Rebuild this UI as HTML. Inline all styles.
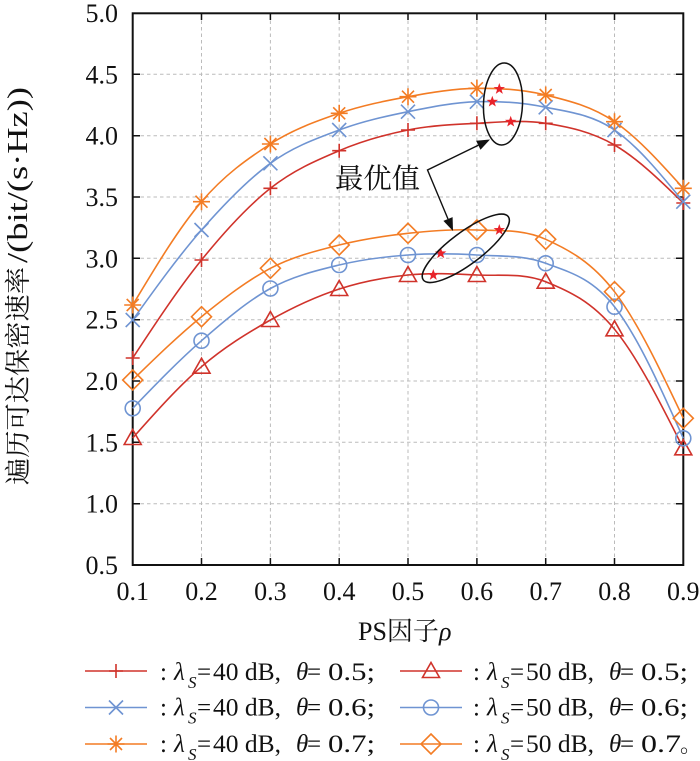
<!DOCTYPE html>
<html><head><meta charset="utf-8"><style>
html,body{margin:0;padding:0;background:#fff;}
svg{display:block;}
.t{font-family:"Liberation Serif","Noto Serif CJK SC",serif;fill:#111;}
.cj{font-family:"Noto Serif CJK SC","Liberation Serif",serif;}
</style></head><body>
<svg width="700" height="761" viewBox="0 0 700 761" xmlns="http://www.w3.org/2000/svg">
<defs>
<path id="mp" d="M-7 0H7M0-7V7" fill="none"/>
<path id="mx" d="M-7-7L7 7M-7 7L7-7" fill="none"/>
<path id="ms" d="M-8.5 0H8.5M0-8.5V8.5M-6-6L6 6M-6 6L6-6" fill="none"/>
<polygon id="mt" points="0,-8.5 8.5,6.5 -8.5,6.5" fill="none"/>
<circle id="mc" r="7.5" fill="none"/>
<polygon id="md" points="0,-10 10,0 0,10 -10,0" fill="none"/>
<polygon id="st" points="0,-6 1.41,-1.94 5.71,-1.85 2.28,0.74 3.53,4.85 0,2.4 -3.53,4.85 -2.28,0.74 -5.71,-1.85 -1.41,-1.94" fill="#e8232a"/>
</defs>
<rect width="700" height="761" fill="#fff"/>
<!-- grid -->
<g stroke="#bbbbbb" stroke-width="1" stroke-dasharray="3.5 3" fill="none">
<path d="M201.5 14V564M270.4 14V564M339.2 14V564M408 14V564M476.9 14V564M545.7 14V564M614.5 14V564"/>
<path d="M134 503.7H682M134 442.3H682M134 381H682M134 319.7H682M134 258.3H682M134 197H682M134 135.7H682M134 74.3H682"/>
</g>
<!-- axes -->
<rect x="132.7" y="13.3" width="550.6" height="551.7" fill="none" stroke="#111" stroke-width="2"/>
<g stroke="#111" stroke-width="1.5">
<path d="M201.5 565V558M270.4 565V558M339.2 565V558M408 565V558M476.9 565V558M545.7 565V558M614.5 565V558"/>
<path d="M201.5 13V20M270.4 13V20M339.2 13V20M408 13V20M476.9 13V20M545.7 13V20M614.5 13V20"/>
<path d="M133 503.7H140M133 442.3H140M133 381H140M133 319.7H140M133 258.3H140M133 197H140M133 135.7H140M133 74.3H140"/>
<path d="M683 503.7H676M683 442.3H676M683 381H676M683 319.7H676M683 258.3H676M683 197H676M683 135.7H676M683 74.3H676"/>
</g>
<!-- y tick labels -->
<g class="t" font-size="26" text-anchor="end">
<text x="118" y="574">0.5</text>
<text x="118" y="512.7">1.0</text>
<text x="118" y="451.3">1.5</text>
<text x="118" y="390">2.0</text>
<text x="118" y="328.7">2.5</text>
<text x="118" y="267.3">3.0</text>
<text x="118" y="206">3.5</text>
<text x="118" y="144.7">4.0</text>
<text x="118" y="83.3">4.5</text>
<text x="118" y="22">5.0</text>
</g>
<!-- x tick labels -->
<g class="t" font-size="26" text-anchor="middle">
<text x="132.7" y="600">0.1</text>
<text x="201.5" y="600">0.2</text>
<text x="270.4" y="600">0.3</text>
<text x="339.2" y="600">0.4</text>
<text x="408" y="600">0.5</text>
<text x="476.9" y="600">0.6</text>
<text x="545.7" y="600">0.7</text>
<text x="614.5" y="600">0.8</text>
<text x="683.3" y="600">0.9</text>
</g>
<!-- x title -->
<text class="t" x="358" y="640" font-size="26">PS<tspan class="cj">因子</tspan><tspan font-style="italic">ρ</tspan></text>
<!-- y title -->
<text class="t" font-size="26" transform="translate(27,485) rotate(-90)"><tspan class="cj" x="0" textLength="218" lengthAdjust="spacingAndGlyphs">遍历可达保密速率</tspan><tspan x="222" font-size="28" textLength="176" lengthAdjust="spacingAndGlyphs">/(bit/(s·Hz))</tspan></text>

<!-- curves -->
<g fill="none" stroke-width="1.6">
<path stroke="#d0332b" d="M132.7 358 C155.6 323.1 178.6 288.3 201.5 260 C224.4 231.7 247.5 206.5 270.4 188.3 C293.3 170.1 316.3 160.4 339.2 150.7 C362.1 141.0 385.1 134.6 408 130 C430.9 125.4 454.0 124.4 476.9 123.3 C499.8 122.2 522.8 119.7 545.7 123.3 C568.6 126.9 591.6 131.7 614.5 145 C637.4 158.3 660.4 180.6 683.3 203"/>
<path stroke="#6f94d2" d="M132.7 320 C155.6 288.1 178.6 256.1 201.5 230 C224.4 203.9 247.5 180.0 270.4 163.3 C293.3 146.6 316.3 138.6 339.2 130 C362.1 121.4 385.1 116.4 408 111.7 C430.9 107.0 454.0 102.4 476.9 101.7 C499.8 101.0 522.8 102.6 545.7 107.3 C568.6 112.0 591.6 114.3 614.5 130 C637.4 145.7 660.4 173.7 683.3 201.7"/>
<path stroke="#f37c24" d="M132.7 305 C155.6 266.8 178.6 228.5 201.5 201.7 C224.4 174.9 247.5 158.7 270.4 144 C293.3 129.3 316.3 121.2 339.2 113.3 C362.1 105.4 385.1 100.9 408 96.7 C430.9 92.5 454.0 88.6 476.9 88.3 C499.8 88.0 522.8 89.4 545.7 95 C568.6 100.6 591.6 106.2 614.5 121.7 C637.4 137.3 660.4 162.8 683.3 188.3"/>
<path stroke="#d0332b" d="M132.7 438 C155.6 412.2 178.6 386.4 201.5 366.7 C224.4 347.0 247.5 333.0 270.4 320 C293.3 307.1 316.3 296.5 339.2 289 C362.1 281.5 385.1 277.3 408 275 C430.9 272.7 454.0 273.9 476.9 275 C499.8 276.1 522.8 272.7 545.7 281.7 C568.6 290.8 591.6 301.5 614.5 329.3 C637.4 357.1 660.4 402.7 683.3 448.3"/>
<path stroke="#6f94d2" d="M132.7 408.3 C155.6 384.5 178.6 360.7 201.5 340.7 C224.4 320.7 247.5 301.1 270.4 288.5 C293.3 275.9 316.3 270.6 339.2 265 C362.1 259.4 385.1 256.7 408 255 C430.9 253.3 454.0 253.6 476.9 255 C499.8 256.4 522.8 254.7 545.7 263.3 C568.6 271.9 591.6 277.5 614.5 306.7 C637.4 335.9 660.4 387.1 683.3 438.3"/>
<path stroke="#f37c24" d="M132.7 380 C155.6 357.7 178.6 335.3 201.5 316.7 C224.4 298.1 247.5 280.3 270.4 268.3 C293.3 256.4 316.3 250.8 339.2 245 C362.1 239.2 385.1 235.8 408 233.3 C430.9 230.8 454.0 229.0 476.9 230 C499.8 231.0 522.8 229.0 545.7 239.3 C568.6 249.6 591.6 261.9 614.5 291.7 C637.4 321.5 660.4 369.9 683.3 418.3"/>
</g>

<!-- markers -->
<g stroke="#d0332b" stroke-width="1.6">
<use href="#mp" x="132.7" y="358"/><use href="#mp" x="201.5" y="260"/><use href="#mp" x="270.4" y="188.3"/><use href="#mp" x="339.2" y="150.7"/><use href="#mp" x="408" y="130"/><use href="#mp" x="476.9" y="123.3"/><use href="#mp" x="545.7" y="123.3"/><use href="#mp" x="614.5" y="145"/><use href="#mp" x="683.3" y="203"/>
<use href="#mt" x="132.7" y="438"/><use href="#mt" x="201.5" y="366.7"/><use href="#mt" x="270.4" y="320"/><use href="#mt" x="339.2" y="289"/><use href="#mt" x="408" y="275"/><use href="#mt" x="476.9" y="275"/><use href="#mt" x="545.7" y="281.7"/><use href="#mt" x="614.5" y="329.3"/><use href="#mt" x="683.3" y="448.3"/>
</g>
<g stroke="#6f94d2" stroke-width="1.6">
<use href="#mx" x="132.7" y="320"/><use href="#mx" x="201.5" y="230"/><use href="#mx" x="270.4" y="163.3"/><use href="#mx" x="339.2" y="130"/><use href="#mx" x="408" y="111.7"/><use href="#mx" x="476.9" y="101.7"/><use href="#mx" x="545.7" y="107.3"/><use href="#mx" x="614.5" y="130"/><use href="#mx" x="683.3" y="201.7"/>
<use href="#mc" x="132.7" y="408.3"/><use href="#mc" x="201.5" y="340.7"/><use href="#mc" x="270.4" y="288.5"/><use href="#mc" x="339.2" y="265"/><use href="#mc" x="408" y="255"/><use href="#mc" x="476.9" y="255"/><use href="#mc" x="545.7" y="263.3"/><use href="#mc" x="614.5" y="306.7"/><use href="#mc" x="683.3" y="438.3"/>
</g>
<g stroke="#f37c24" stroke-width="1.6">
<use href="#ms" x="132.7" y="305"/><use href="#ms" x="201.5" y="201.7"/><use href="#ms" x="270.4" y="144"/><use href="#ms" x="339.2" y="113.3"/><use href="#ms" x="408" y="96.7"/><use href="#ms" x="476.9" y="88.3"/><use href="#ms" x="545.7" y="95"/><use href="#ms" x="614.5" y="121.7"/><use href="#ms" x="683.3" y="188.3"/>
<use href="#md" x="132.7" y="380"/><use href="#md" x="201.5" y="316.7"/><use href="#md" x="270.4" y="268.3"/><use href="#md" x="339.2" y="245"/><use href="#md" x="408" y="233.3"/><use href="#md" x="476.9" y="230"/><use href="#md" x="545.7" y="239.3"/><use href="#md" x="614.5" y="291.7"/><use href="#md" x="683.3" y="418.3"/>
</g>

<!-- optimal stars -->
<use href="#st" x="499.3" y="89"/>
<use href="#st" x="492.3" y="101.7"/>
<use href="#st" x="510.7" y="121.7"/>
<use href="#st" x="499.3" y="230"/>
<use href="#st" x="440.7" y="253.3"/>
<use href="#st" x="433.3" y="275"/>

<!-- ellipses -->
<g fill="none" stroke="#111" stroke-width="1.5">
<ellipse cx="503" cy="104" rx="19.5" ry="41" transform="rotate(2.3 503 104)"/>
<ellipse cx="465.8" cy="248.3" rx="53" ry="16" transform="rotate(-36.7 465.8 248.3)"/>
</g>
<!-- arrows -->
<g stroke="#111" stroke-width="1.4" fill="none">
<path d="M478.3 145.2L427.5 170L448 219"/>
</g>
<polygon points="490,139.5 480.5,149.7 476.1,140.7" fill="#111"/>
<polygon points="453,231 452.6,217.1 443.4,220.9" fill="#111"/>
<text class="cj" x="335" y="188" font-size="28" textLength="85" lengthAdjust="spacingAndGlyphs" fill="#111">最优值</text>

<!-- legend -->
<g stroke-width="1.6" fill="none">
<path stroke="#d0332b" d="M85 671H147"/>
<use href="#mp" x="116" y="671" stroke="#d0332b"/>
<path stroke="#6f94d2" d="M85 707.5H147"/>
<use href="#mx" x="116" y="707.5" stroke="#6f94d2"/>
<path stroke="#f37c24" d="M85 744H147"/>
<use href="#ms" x="116" y="744" stroke="#f37c24"/>
<path stroke="#d0332b" d="M400 671H462"/>
<use href="#mt" x="431" y="671" stroke="#d0332b"/>
<path stroke="#6f94d2" d="M400 707.5H462"/>
<use href="#mc" x="431" y="707.5" stroke="#6f94d2"/>
<path stroke="#f37c24" d="M400 744H462"/>
<use href="#md" x="431" y="744" stroke="#f37c24"/>
</g>
<g class="t" font-size="25">
<!-- left column -->
<text y="680"><tspan x="160">:</tspan><tspan x="174" font-style="italic">λ</tspan><tspan x="188" dy="8" font-size="17" font-style="italic">S</tspan><tspan x="197" dy="-8">=</tspan><tspan x="213" textLength="68" lengthAdjust="spacingAndGlyphs">40 dB,</tspan><tspan x="296" font-style="italic">θ</tspan><tspan x="307">=</tspan><tspan x="328" textLength="47" lengthAdjust="spacingAndGlyphs">0.5;</tspan></text>
<text y="715.5"><tspan x="160">:</tspan><tspan x="174" font-style="italic">λ</tspan><tspan x="188" dy="8" font-size="17" font-style="italic">S</tspan><tspan x="197" dy="-8">=</tspan><tspan x="213" textLength="68" lengthAdjust="spacingAndGlyphs">40 dB,</tspan><tspan x="296" font-style="italic">θ</tspan><tspan x="307">=</tspan><tspan x="328" textLength="47" lengthAdjust="spacingAndGlyphs">0.6;</tspan></text>
<text y="752"><tspan x="160">:</tspan><tspan x="174" font-style="italic">λ</tspan><tspan x="188" dy="8" font-size="17" font-style="italic">S</tspan><tspan x="197" dy="-8">=</tspan><tspan x="213" textLength="68" lengthAdjust="spacingAndGlyphs">40 dB,</tspan><tspan x="296" font-style="italic">θ</tspan><tspan x="307">=</tspan><tspan x="328" textLength="47" lengthAdjust="spacingAndGlyphs">0.7;</tspan></text>
<!-- right column -->
<text y="680"><tspan x="473">:</tspan><tspan x="487" font-style="italic">λ</tspan><tspan x="501" dy="8" font-size="17" font-style="italic">S</tspan><tspan x="510" dy="-8">=</tspan><tspan x="526" textLength="68" lengthAdjust="spacingAndGlyphs">50 dB,</tspan><tspan x="609" font-style="italic">θ</tspan><tspan x="620">=</tspan><tspan x="641" textLength="47" lengthAdjust="spacingAndGlyphs">0.5;</tspan></text>
<text y="715.5"><tspan x="473">:</tspan><tspan x="487" font-style="italic">λ</tspan><tspan x="501" dy="8" font-size="17" font-style="italic">S</tspan><tspan x="510" dy="-8">=</tspan><tspan x="526" textLength="68" lengthAdjust="spacingAndGlyphs">50 dB,</tspan><tspan x="609" font-style="italic">θ</tspan><tspan x="620">=</tspan><tspan x="641" textLength="47" lengthAdjust="spacingAndGlyphs">0.6;</tspan></text>
<text y="752"><tspan x="473">:</tspan><tspan x="487" font-style="italic">λ</tspan><tspan x="501" dy="8" font-size="17" font-style="italic">S</tspan><tspan x="510" dy="-8">=</tspan><tspan x="526" textLength="68" lengthAdjust="spacingAndGlyphs">50 dB,</tspan><tspan x="609" font-style="italic">θ</tspan><tspan x="620">=</tspan><tspan x="641" textLength="40" lengthAdjust="spacingAndGlyphs">0.7</tspan><tspan class="cj" x="680" font-size="22">。</tspan></text>
</g>
</svg>
</body></html>
